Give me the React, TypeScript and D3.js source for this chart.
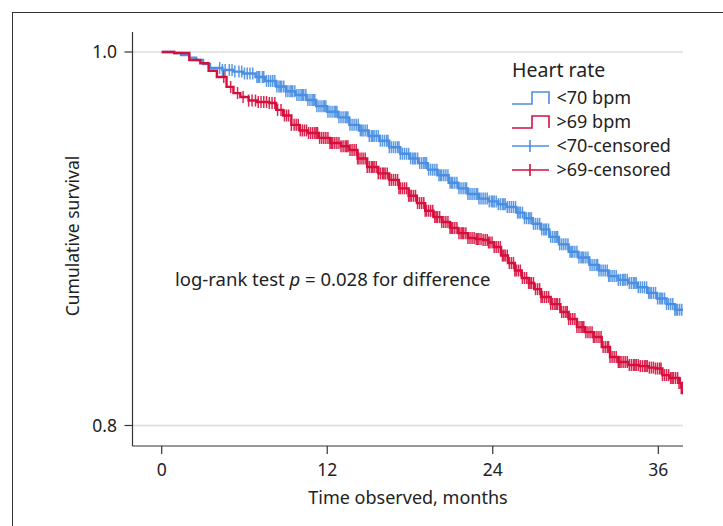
import * as d3 from "d3";

// Kaplan-Meier steps (months, cumulative survival)
const lowTimes = [0, 0.9, 1.4, 2.0, 2.5, 3.0, 3.5, 4.4, 5.2, 5.9, 6.8, 7.5, 8.3, 9.0, 9.7, 10.5, 11.2, 12.0, 12.8, 13.6, 14.3, 15.0, 15.8, 16.5, 17.3, 18.0, 18.6, 19.3, 20.0, 20.8, 21.5, 22.2, 23.0, 23.7, 24.4, 25.0, 25.7, 26.3, 26.9, 27.5, 28.1, 28.8, 29.5, 30.2, 31.0, 31.7, 32.4, 33.1, 33.8, 34.5, 35.2, 35.9, 36.6, 37.2];
const lowSurv = [1, 0.9995, 0.9984, 0.997, 0.9957, 0.9935, 0.9914, 0.9904, 0.9895, 0.9885, 0.9866, 0.9845, 0.9815, 0.979, 0.977, 0.9743, 0.971, 0.968, 0.965, 0.961, 0.958, 0.955, 0.9525, 0.949, 0.9455, 0.943, 0.9405, 0.937, 0.934, 0.93, 0.927, 0.924, 0.9215, 0.92, 0.9185, 0.917, 0.914, 0.911, 0.908, 0.905, 0.901, 0.897, 0.893, 0.89, 0.886, 0.883, 0.88, 0.878, 0.8763, 0.874, 0.871, 0.868, 0.865, 0.862];

const highTimes = [0, 0.9, 2.0, 2.8, 3.4, 4.0, 4.7, 5.2, 5.7, 6.3, 6.9, 7.8, 8.3, 8.8, 9.4, 10.0, 10.6, 11.4, 12.2, 13.0, 13.6, 14.2, 14.9, 15.7, 16.5, 17.2, 17.9, 18.5, 19.1, 19.7, 20.3, 20.9, 21.5, 22.2, 22.8, 23.3, 23.7, 24.1, 24.6, 25.1, 25.6, 26.1, 26.6, 27.0, 27.5, 28.2, 28.9, 29.5, 30.1, 30.7, 31.3, 31.9, 32.5, 33.1, 33.8, 34.6, 35.3, 35.8, 36.3, 36.8, 37.5, 37.7];
const highSurv = [1, 0.9995, 0.9957, 0.994, 0.99, 0.9866, 0.9813, 0.978, 0.9759, 0.974, 0.9732, 0.9727, 0.969, 0.966, 0.961, 0.958, 0.9566, 0.954, 0.9513, 0.9495, 0.9475, 0.943, 0.9384, 0.935, 0.9315, 0.927, 0.923, 0.9191, 0.915, 0.9116, 0.909, 0.9058, 0.903, 0.9004, 0.8998, 0.8993, 0.898, 0.8956, 0.891, 0.887, 0.883, 0.879, 0.8763, 0.873, 0.8688, 0.865, 0.8608, 0.857, 0.8527, 0.85, 0.8474, 0.842, 0.8367, 0.834, 0.8324, 0.8318, 0.831, 0.8305, 0.827, 0.8254, 0.8228, 0.8174];

// censoring times (months)
const lowCensored = [4.2, 4.6, 5.1, 5.3, 5.8, 6.2, 6.4, 6.9, 7.1, 7.4, 7.6, 7.9, 8.2, 8.5, 8.7, 9.0, 9.3, 9.5, 9.8, 10.1, 10.3, 10.6, 10.9, 11.1, 11.4, 11.7, 11.9, 12.2, 12.5, 12.7, 13.0, 13.3, 13.5, 13.8, 14.1, 14.4, 14.6, 14.9, 15.2, 15.4, 15.7, 16.0, 16.3, 16.5, 16.8, 17.1, 17.3, 17.6, 17.9, 18.2, 18.4, 18.7, 19.0, 19.2, 19.5, 19.8, 20.1, 20.3, 20.6, 20.9, 21.1, 21.4, 21.7, 22.0, 22.2, 22.5, 22.8, 23.0, 23.3, 23.6, 23.9, 24.1, 24.4, 24.7, 24.9, 25.2, 25.5, 25.8, 26.0, 26.3, 26.6, 26.8, 27.1, 27.4, 27.7, 27.9, 28.2, 28.5, 28.7, 29.0, 29.3, 29.6, 29.8, 30.1, 30.4, 30.6, 30.9, 31.2, 31.5, 31.7, 32.0, 32.3, 32.5, 32.8, 33.1, 33.4, 33.6, 33.9, 34.2, 34.4, 34.7, 35.0, 35.3, 35.5, 35.8, 36.1, 36.3, 36.6, 36.9, 37.2, 37.4, 37.7];
const lowCensoredMore = [4.4, 4.9, 5.6, 6.0, 6.6, 7.0, 7.3, 7.75, 8.05, 8.35, 8.6, 8.85, 9.15, 9.4, 9.65, 9.95, 10.2, 10.45, 10.75, 11.0, 11.25, 11.55, 11.8, 12.05, 12.35, 12.6, 12.85, 13.15, 13.4, 13.65, 13.95, 14.25, 14.5, 14.75, 15.05, 15.3, 15.55, 15.85, 16.15, 16.4, 16.65, 16.95, 17.2, 17.45, 17.75, 18.05, 18.3, 18.55, 18.85, 19.1, 19.35, 19.65, 19.95, 20.2, 20.45, 20.75, 21.0, 21.25, 21.55, 21.85, 22.1, 22.35, 22.65, 22.9, 23.15, 23.45, 23.75, 24.0, 24.25, 24.55, 24.8, 25.05, 25.35, 25.65, 25.9, 26.15, 26.45, 26.7, 26.95, 27.25, 27.55, 27.8, 28.05, 28.35, 28.6, 28.85, 29.15, 29.45, 29.7, 29.95, 30.25, 30.5, 30.75, 31.05, 31.35, 31.6, 31.85, 32.15, 32.4, 32.65, 32.95, 33.25, 33.5, 33.75, 34.05, 34.3, 34.55, 34.85, 35.15, 35.4, 35.65, 35.95, 36.2, 36.45, 36.75, 37.05, 37.3, 37.55];
const highCensored = [4.5, 5.5, 6.3, 6.8, 7.2, 7.6, 8.0, 8.4, 8.9, 9.2, 9.6, 9.9, 10.2, 10.5, 10.8, 11.1, 11.3, 11.6, 11.9, 12.2, 12.4, 12.7, 13.0, 13.3, 13.5, 13.8, 14.1, 14.3, 14.6, 14.9, 15.2, 15.4, 15.7, 16.0, 16.2, 16.5, 16.8, 17.1, 17.3, 17.6, 17.9, 18.1, 18.4, 18.7, 19.0, 19.2, 19.5, 19.8, 20.0, 20.3, 20.6, 20.9, 21.1, 21.4, 21.7, 21.9, 22.2, 22.5, 22.8, 23.0, 23.3, 23.6, 23.8, 24.1, 24.4, 24.7, 24.9, 25.2, 25.5, 25.7, 26.0, 26.3, 26.6, 26.8, 27.1, 27.4, 27.6, 27.9, 28.2, 28.5, 28.7, 29.0, 29.3, 29.5, 29.8, 30.1, 30.4, 30.6, 30.9, 31.2, 31.4, 31.7, 32.0, 32.3, 32.5, 32.8, 33.1, 33.3, 33.6, 33.9, 34.2, 34.4, 34.7, 35.0, 35.2, 35.5, 35.8, 36.1, 36.3, 36.6, 36.9, 37.1, 37.4, 37.6];
const highCensoredMore = [5.0, 5.9, 6.55, 7.0, 7.4, 7.8, 8.2, 8.65, 9.05, 9.4, 9.75, 10.05, 10.35, 10.65, 10.95, 11.2, 11.45, 11.75, 12.05, 12.3, 12.55, 12.85, 13.15, 13.4, 13.65, 13.95, 14.2, 14.45, 14.75, 15.05, 15.3, 15.55, 15.85, 16.1, 16.35, 16.65, 16.95, 17.2, 17.45, 17.75, 18.0, 18.25, 18.55, 18.85, 19.1, 19.35, 19.65, 19.9, 20.15, 20.45, 20.75, 21.0, 21.25, 21.55, 21.8, 22.05, 22.35, 22.65, 22.9, 23.15, 23.45, 23.7, 23.95, 24.25, 24.55, 24.8, 25.05, 25.35, 25.6, 25.85, 26.15, 26.45, 26.7, 26.95, 27.25, 27.5, 27.75, 28.05, 28.35, 28.6, 28.85, 29.15, 29.4, 29.65, 29.95, 30.25, 30.5, 30.75, 31.05, 31.3, 31.55, 31.85, 32.15, 32.4, 32.65, 32.95, 33.2, 33.45, 33.75, 34.05, 34.3, 34.55, 34.85, 35.1, 35.35, 35.65, 35.95, 36.2, 36.45, 36.75, 37.0, 37.25, 37.5];

const xTicks = [0, 12, 24, 36];
const yTicks = [0.8, 1.0];
const legendTitle = "Heart rate";
const legendLabels = ["<70 bpm", ">69 bpm", "<70-censored", ">69-censored"];

const BLUE = "#4a8fe2";
const RED = "#d60f3d";
const FONT = "'Noto Sans', 'Open Sans', sans-serif";

export default function App() {
  const width = 723,
    height = 526;
  const plot = { left: 132.5, right: 683, top: 32, bottom: 446 };
  const endTime = 37.8;

  const x = d3.scaleLinear().domain([0, 36]).range([161.7, 658.3]);
  const y = d3.scaleLinear().domain([0.8, 1.0]).range([425.5, 52]);

  const series = [
    { times: lowTimes, surv: lowSurv, cens: lowCensored.concat(lowCensoredMore), color: BLUE },
    { times: highTimes, surv: highSurv, cens: highCensored.concat(highCensoredMore), color: RED },
  ];

  const line = d3
    .line<[number, number]>()
    .x((d) => x(d[0]))
    .y((d) => y(d[1]))
    .curve(d3.curveStepAfter);

  const survAt = (times: number[], surv: number[], t: number) => {
    const i = d3.bisectRight(times, t) - 1;
    return surv[Math.max(0, i)];
  };

  const legendX = 512;
  const legendRows = [104, 128, 152, 176];

  return (
    <svg
      width={width}
      height={height}
      style={{ position: "absolute", left: 0, top: 0, background: "#fff" }}
      fontFamily={FONT}
    >
      <defs>
        <clipPath id="plotClip">
          <rect x={plot.left} y={plot.top} width={plot.right - plot.left} height={plot.bottom - plot.top} />
        </clipPath>
      </defs>
      {/* outer frame */}
      <rect x={12.5} y={12.5} width={800} height={600} fill="none" stroke="#333" strokeWidth={1} />

      {/* grid lines */}
      {yTicks.map((t) => (
        <line key={t} x1={plot.left} x2={plot.right} y1={y(t)} y2={y(t)} stroke="#dcdcdc" strokeWidth={1.6} />
      ))}

      {/* axes */}
      <line x1={plot.left} x2={plot.left} y1={plot.top} y2={plot.bottom} stroke="#333" strokeWidth={1.2} />
      <line x1={plot.left} x2={plot.right} y1={plot.bottom} y2={plot.bottom} stroke="#333" strokeWidth={1.2} />
      {yTicks.map((t) => (
        <g key={t}>
          <line x1={plot.left - 8} x2={plot.left} y1={y(t)} y2={y(t)} stroke="#333" strokeWidth={1.2} />
          <text x={117} y={y(t)} dy="0.36em" textAnchor="end" fontSize={17.5} fill="#222">
            {d3.format(".1f")(t)}
          </text>
        </g>
      ))}
      {xTicks.map((t) => (
        <g key={t}>
          <line x1={x(t)} x2={x(t)} y1={plot.bottom} y2={plot.bottom + 8} stroke="#333" strokeWidth={1.2} />
          <text x={x(t)} y={476} textAnchor="middle" fontSize={17.5} fill="#222">
            {t}
          </text>
        </g>
      ))}
      <text x={408} y={504} textAnchor="middle" fontSize={18} fill="#222">
        Time observed, months
      </text>
      <text
        transform={`translate(79,236) rotate(-90)`}
        textAnchor="middle"
        fontSize={17.5}
        fill="#222"
      >
        Cumulative survival
      </text>

      {/* curves */}
      <g clipPath="url(#plotClip)">
        {series.map((s, si) => {
          const pts: [number, number][] = s.times.map((t, i) => [t, s.surv[i]]);
          pts.push([endTime, s.surv[s.surv.length - 1]]);
          return (
            <g key={si}>
              <path d={line(pts) ?? ""} fill="none" stroke={s.color} strokeWidth={2.4} />
              {s.cens.map((c, i) => {
                const cx = x(c),
                  cy = y(survAt(s.times, s.surv, c));
                return (
                  <line key={i} x1={cx} x2={cx} y1={cy - 6} y2={cy + 6} stroke={s.color} strokeWidth={1.5} opacity={0.9} />
                );
              })}
            </g>
          );
        })}
      </g>

      <text x={175} y={286} fontSize={18.5} fill="#222">
        log-rank test <tspan fontStyle="italic">p</tspan> = 0.028 for difference
      </text>

      {/* legend */}
      <text x={legendX} y={77} fontSize={19.5} fill="#222">
        {legendTitle}
      </text>
      {legendLabels.map((lab, i) => {
        const ry = legendRows[i];
        const color = i % 2 === 0 ? BLUE : RED;
        const mid = ry - 6;
        return (
          <g key={lab}>
            {i < 2 ? (
              <path
                d={`M${legendX},${ry} H${legendX + 20} V${ry - 12} H${legendX + 37} V${ry}`}
                fill="none"
                stroke={color}
                strokeWidth={1.6}
              />
            ) : (
              <g stroke={color} strokeWidth={1.6}>
                <line x1={legendX} x2={legendX + 37} y1={mid} y2={mid} />
                <line x1={legendX + 18} x2={legendX + 18} y1={mid - 6} y2={mid + 6} />
              </g>
            )}
            <text x={556.5} y={ry} fontSize={18} fill="#222">
              {lab}
            </text>
          </g>
        );
      })}
    </svg>
  );
}
